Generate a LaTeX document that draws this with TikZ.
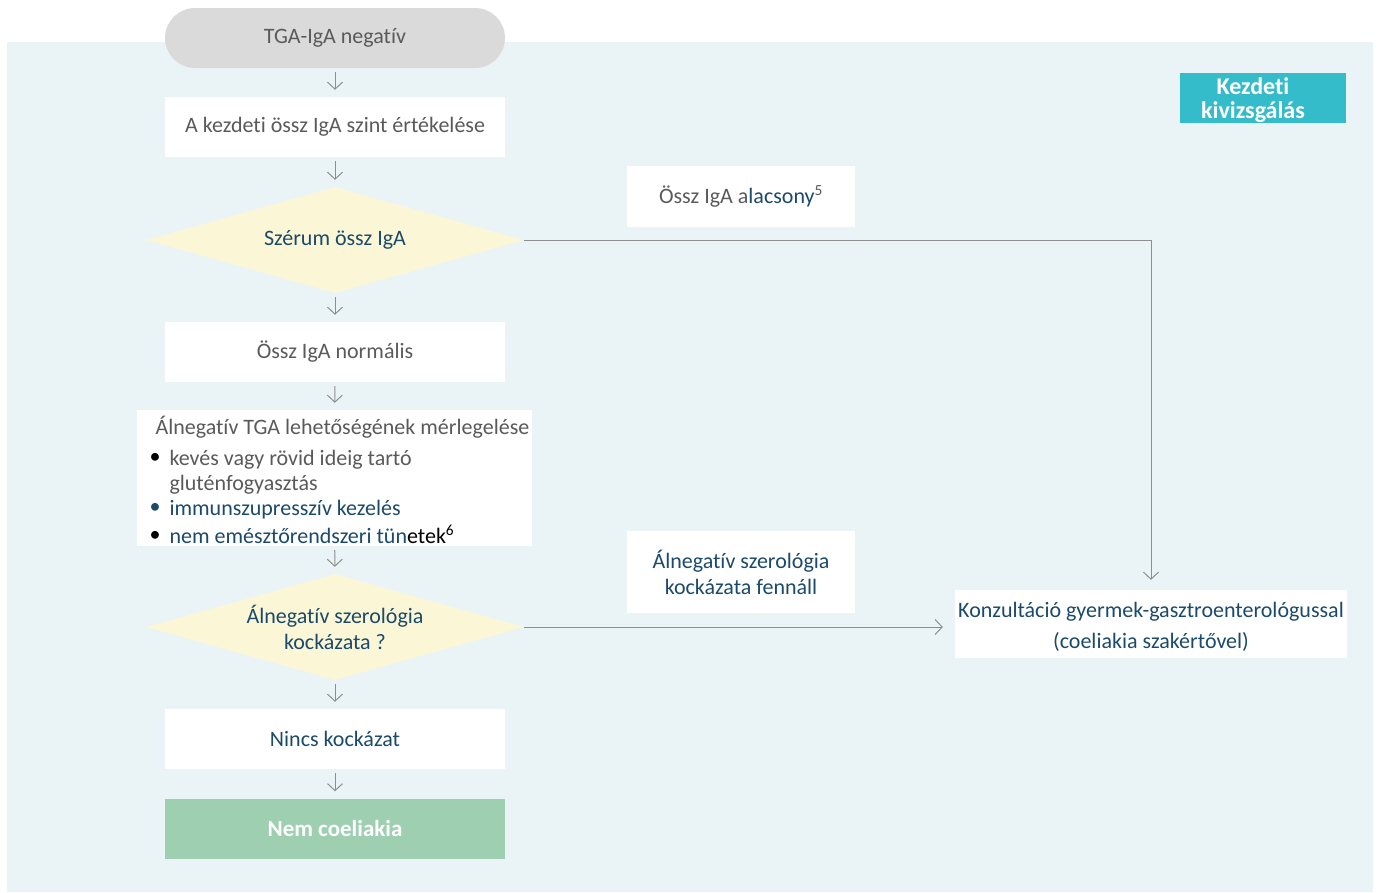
\documentclass[tikz,border=0pt]{standalone}
\usepackage{fontspec}
\setmainfont[Ligatures=NoCommon]{Carlito}
\usetikzlibrary{shapes.geometric,arrows.meta}
\definecolor{panel}{HTML}{EAF4F7}
\definecolor{pill}{HTML}{DADADA}
\definecolor{txtgray}{HTML}{5A5A5A}
\definecolor{txtblue}{HTML}{1C4A6B}
\definecolor{decision}{HTML}{FBF7D6}
\definecolor{outcome}{HTML}{9ECFB1}
\definecolor{tag}{HTML}{35BCCA}
\definecolor{wire}{HTML}{8E8E8E}
\begin{document}
\begin{tikzpicture}[x=1pt,y=-1pt,
  every node/.style={font=\fontsize{22}{26}\selectfont},
  stepbox/.style={fill=white,minimum width=340pt,minimum height=60pt,inner sep=0pt},
  choice/.style={diamond,shape aspect=3.57,fill=decision,minimum width=378pt,minimum height=106pt,inner sep=0pt,align=center,text=txtblue},
  flow/.style={draw=wire,line width=1pt,-{Straight Barb[length=7pt,width=15pt]}},
  hop/.style={flow,shorten <=4pt,shorten >=7pt},
  note/.style={fill=white,minimum width=228pt,inner sep=0pt,align=center}]
% canvas and shaded panel
\useasboundingbox (0,0) rectangle (1381,892);
\fill[white] (0,0) rectangle (1381,892);
\fill[panel] (7,42) rectangle (1373,892);

% main column
\node[fill=pill,rounded corners=30pt,minimum width=340pt,minimum height=60pt,inner sep=0pt,text=txtgray] (start) at (335,38) {TGA-IgA negatív};
\node[stepbox,text=txtgray] (eval) at (335,127) {A kezdeti össz IgA szint értékelése};
\node[choice] (serum) at (335,240) {Szérum össz IgA};
\node[stepbox,text=txtgray] (normal) at (335,352) {Össz IgA normális};
\node[fill=white,minimum width=395pt,minimum height=136pt,inner sep=0pt] (consider) at (334.5,478) {};
\node[anchor=base west,text=txtgray] (ctitle) at (152,434) {Álnegatív TGA lehetőségének mérlegelése};
\node[text=black] (b1) at (155,458) {\textbullet};
\node[anchor=base west,text=txtgray] (c1) at (166,465) {kevés vagy rövid ideig tartó};
\node[anchor=base west,text=txtgray] (c1b) at (166,490) {gluténfogyasztás};
\node[text=txtblue] (b2) at (155,508) {\textbullet};
\node[anchor=base west,text=txtblue] (c2) at (166,515) {immunszupresszív kezelés};
\node[text=black] (b3) at (155,536) {\textbullet};
\node[anchor=base west,text=txtblue] (c3) at (166,543) {nem emésztőrendszeri tün\textcolor{black}{etek\textsuperscript{6}}};
\node[choice] (risk) at (335,627) {Álnegatív szerológia\\kockázata ?};
\node[stepbox,text=txtblue] (norisk) at (335,739) {Nincs kockázat};
\node[stepbox,fill=outcome,text=white,font=\fontsize{23}{26}\selectfont\bfseries] (notcd) at (335,828.5) {Nem coeliakia};

% side branch
\node[note,minimum height=61pt,text=txtgray] (low) at (741,196.5) {Össz IgA a\textcolor{txtblue}{lacsony}\textsuperscript{5}};
\node[note,minimum height=82pt,text=txtblue] (fn) at (741,572) {Álnegatív szerológia\\kockázata fennáll};
\node[fill=white,minimum width=392pt,minimum height=68pt,inner sep=0pt,align=center,text=txtblue] (consult) at (1151,624) {};
\node[align=center,text=txtblue] (consulttext) at ([yshift=-3pt]consult.center) {Konzultáció gyermek-gasztroenterológussal\\[5pt](coeliakia szakértővel)};

% section tag
\node[fill=tag,minimum width=166pt,minimum height=50pt,inner sep=0pt] (tagbox) at (1263,98) {};
\node[text=white,align=center,inner sep=0pt,font=\fontsize{24}{24}\selectfont\bfseries] (tagtext) at ([xshift=-10pt,yshift=-2pt]tagbox.center) {Kezdeti\\kivizsgálás};

% connectors
\draw[hop] (start) -- (eval);
\draw[hop] (eval) -- (serum);
\draw[hop] (serum) -- (normal);
\draw[hop] (normal) -- (consider);
\draw[hop] (consider) -- (risk);
\draw[hop] (risk) -- (norisk);
\draw[hop] (norisk) -- (notcd);
\draw[flow,shorten >=10pt] (serum.east) -| (consult.north);
\draw[flow,shorten >=12pt] (risk.east) -- (risk.east -| consult.west);
\end{tikzpicture}
\end{document}
